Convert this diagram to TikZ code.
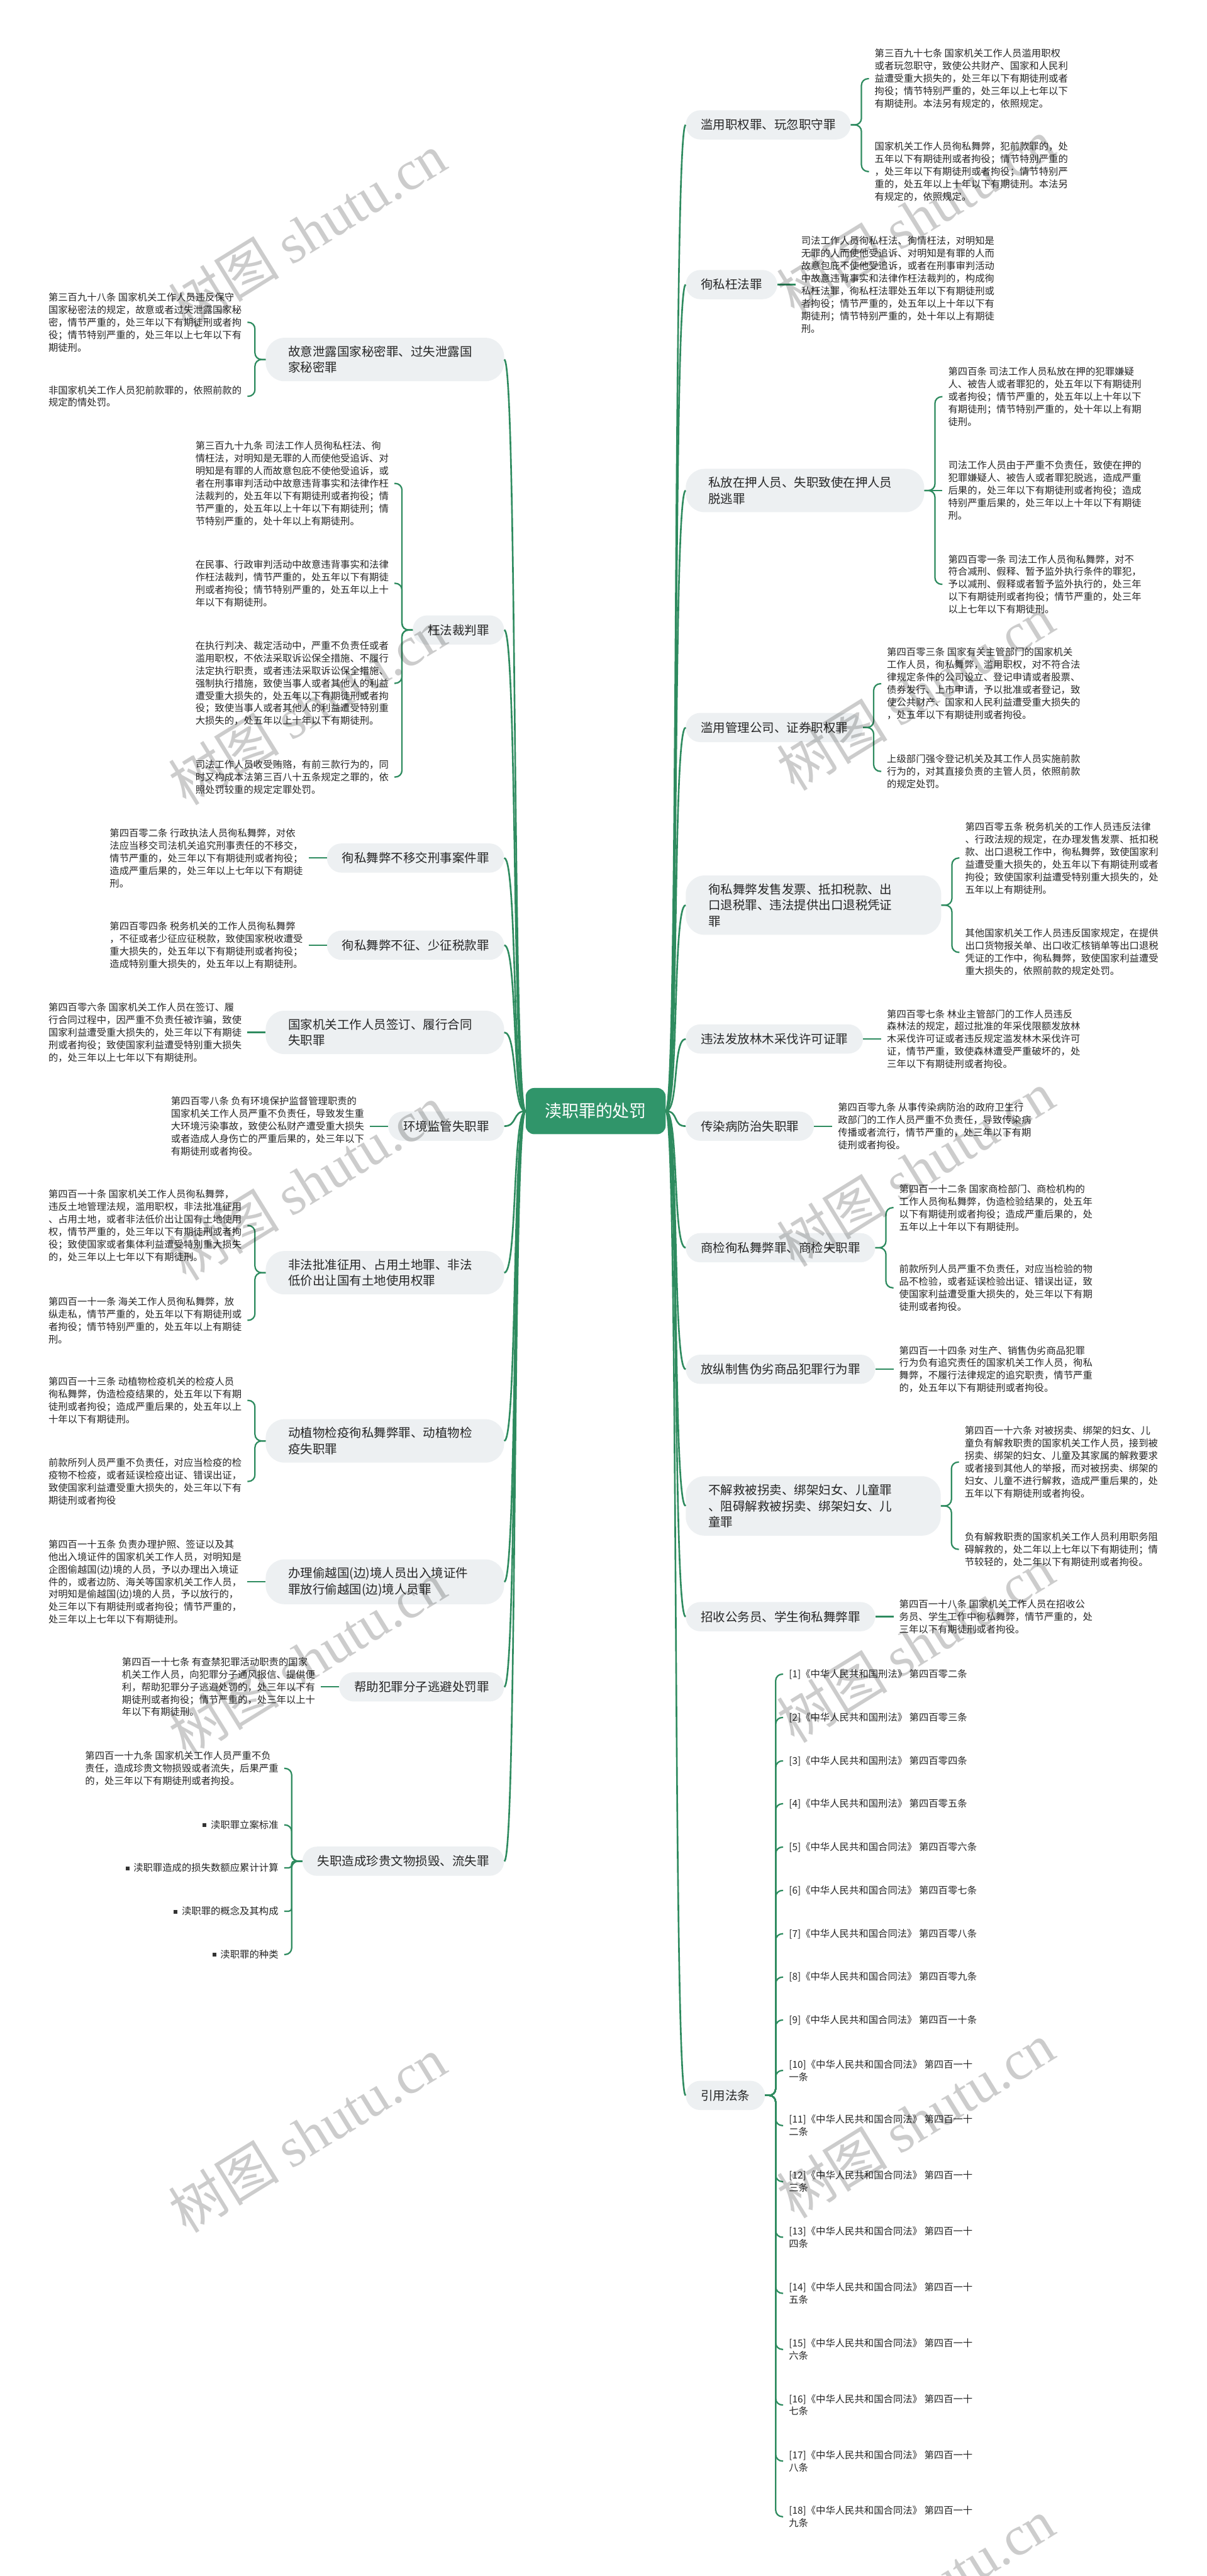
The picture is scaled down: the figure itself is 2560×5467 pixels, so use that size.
\documentclass[tikz,border=0pt]{standalone}
\usepackage{fontspec}
\setmainfont{Noto Sans CJK SC}
\newfontfamily\wmlatin{Liberation Serif}
\usetikzlibrary{calc}
\definecolor{lc}{HTML}{2E8B5F}
\definecolor{cfill}{HTML}{30956A}
\definecolor{nbg}{HTML}{EDF0F2}
\definecolor{txt}{HTML}{262626}
\definecolor{bul}{HTML}{333333}
\begin{document}
\begin{tikzpicture}[x=1pt,y=-1pt,
  conn/.style={draw=lc, line width=3pt, rounded corners=14pt},
  sconn/.style={draw=lc, line width=3pt, rounded corners=6pt},
  mconn/.style={draw=lc, line width=3.5pt},
  br/.style={fill=nbg, rounded corners=31pt, inner xsep=32pt, inner ysep=17pt, minimum height=62pt, font=\fontsize{26}{34}\selectfont, text=txt},
  brm/.style={br, inner xsep=48pt, rounded corners=40pt, align=left, text width=#1},
  dt/.style={inner xsep=12pt, inner ysep=0pt, font=\fontsize{20.5}{26.6}\selectfont, text=txt, align=left},
  wm/.style={rotate=31.7, text=black, text opacity=0.2, font=\fontsize{118}{120}\selectfont}
]
\fill[white] (0,0) rectangle (2560,5467);
\useasboundingbox (0,0) rectangle (2560,5467);

% ---------------- center ----------------
\node[fill=cfill, text=white, rounded corners=18pt, minimum width=297pt, minimum height=98pt, inner sep=0pt, font=\fontsize{36}{40}\selectfont] (C) at (1264,2358) {渎职罪的处罚};

% ---------------- right branch nodes ----------------
\node[br, anchor=west] (R1) at (1455,265) {滥用职权罪、玩忽职守罪};
\node[br, anchor=west] (R2) at (1455,604) {徇私枉法罪};
\node[brm=410pt, anchor=west] (R3) at (1455,1041) {私放在押人员、失职致使在押人员\\脱逃罪};
\node[br, anchor=west] (R4) at (1455,1544) {滥用管理公司、证券职权罪};
\node[brm=446pt, anchor=west] (R5) at (1455,1921) {徇私舞弊发售发票、抵扣税款、出\\口退税罪、违法提供出口退税凭证\\罪};
\node[br, anchor=west] (R6) at (1455,2205) {违法发放林木采伐许可证罪};
\node[br, anchor=west] (R7) at (1455,2390) {传染病防治失职罪};
\node[br, anchor=west] (R8) at (1455,2648) {商检徇私舞弊罪、商检失职罪};
\node[br, anchor=west] (R9) at (1455,2906) {放纵制售伪劣商品犯罪行为罪};
\node[brm=445pt, anchor=west] (R10) at (1455,3196) {不解救被拐卖、绑架妇女、儿童罪\\、阻碍解救被拐卖、绑架妇女、儿\\童罪};
\node[br, anchor=west] (R11) at (1455,3431) {招收公务员、学生徇私舞弊罪};
\node[br, anchor=west] (R12) at (1455,4447) {引用法条};

% ---------------- left branch nodes ----------------
\node[brm=410pt, anchor=east] (LA) at (1070,763) {故意泄露国家秘密罪、过失泄露国\\家秘密罪};
\node[br, anchor=east] (LB) at (1070,1337) {枉法裁判罪};
\node[br, anchor=east] (LC) at (1070,1821) {徇私舞弊不移交刑事案件罪};
\node[br, anchor=east] (LD) at (1070,2006) {徇私舞弊不征、少征税款罪};
\node[brm=410pt, anchor=east] (LE) at (1070,2191) {国家机关工作人员签订、履行合同\\失职罪};
\node[br, anchor=east] (LF) at (1070,2390) {环境监管失职罪};
\node[brm=410pt, anchor=east] (LG) at (1070,2701) {非法批准征用、占用土地罪、非法\\低价出让国有土地使用权罪};
\node[brm=410pt, anchor=east] (LH) at (1070,3058) {动植物检疫徇私舞弊罪、动植物检\\疫失职罪};
\node[brm=410pt, anchor=east] (LI) at (1070,3357) {办理偷越国(边)境人员出入境证件\\罪放行偷越国(边)境人员罪};
\node[br, anchor=east] (LJ) at (1070,3580) {帮助犯罪分子逃避处罚罪};
\node[br, anchor=east] (LK) at (1070,3950) {失职造成珍贵文物损毁、流失罪};

% ---------------- right detail texts ----------------
\node[dt, anchor=west] (T1) at (1844,167) {第三百九十七条 国家机关工作人员滥用职权\\或者玩忽职守，致使公共财产、国家和人民利\\益遭受重大损失的，处三年以下有期徒刑或者\\拘役；情节特别严重的，处三年以上七年以下\\有期徒刑。本法另有规定的，依照规定。};
\node[dt, anchor=west] (T2) at (1844,364) {国家机关工作人员徇私舞弊，犯前款罪的，处\\五年以下有期徒刑或者拘役；情节特别严重的\\，处三年以下有期徒刑或者拘役；情节特别严\\重的，处五年以上十年以下有期徒刑。本法另\\有规定的，依照规定。};
\node[dt, anchor=west] (T3) at (1688,604) {司法工作人员徇私枉法、徇情枉法，对明知是\\无罪的人而使他受追诉、对明知是有罪的人而\\故意包庇不使他受追诉，或者在刑事审判活动\\中故意违背事实和法律作枉法裁判的，构成徇\\私枉法罪，徇私枉法罪处五年以下有期徒刑或\\者拘役；情节严重的，处五年以上十年以下有\\期徒刑；情节特别严重的，处十年以上有期徒\\刑。};
\node[dt, anchor=west] (T4) at (2000,842) {第四百条 司法工作人员私放在押的犯罪嫌疑\\人、被告人或者罪犯的，处五年以下有期徒刑\\或者拘役；情节严重的，处五年以上十年以下\\有期徒刑；情节特别严重的，处十年以上有期\\徒刑。};
\node[dt, anchor=west] (T5) at (2000,1041) {司法工作人员由于严重不负责任，致使在押的\\犯罪嫌疑人、被告人或者罪犯脱逃，造成严重\\后果的，处三年以下有期徒刑或者拘役；造成\\特别严重后果的，处三年以上十年以下有期徒\\刑。};
\node[dt, anchor=west] (T6) at (2000,1240) {第四百零一条 司法工作人员徇私舞弊，对不\\符合减刑、假释、暂予监外执行条件的罪犯，\\予以减刑、假释或者暂予监外执行的，处三年\\以下有期徒刑或者拘役；情节严重的，处三年\\以上七年以下有期徒刑。};
\node[dt, anchor=west] (T7) at (1870,1451) {第四百零三条 国家有关主管部门的国家机关\\工作人员，徇私舞弊，滥用职权，对不符合法\\律规定条件的公司设立、登记申请或者股票、\\债券发行、上市申请，予以批准或者登记，致\\使公共财产、国家和人民利益遭受重大损失的\\，处五年以下有期徒刑或者拘役。};
\node[dt, anchor=west] (T8) at (1870,1637) {上级部门强令登记机关及其工作人员实施前款\\行为的，对其直接负责的主管人员，依照前款\\的规定处罚。};
\node[dt, anchor=west] (T9) at (2036,1821) {第四百零五条 税务机关的工作人员违反法律\\、行政法规的规定，在办理发售发票、抵扣税\\款、出口退税工作中，徇私舞弊，致使国家利\\益遭受重大损失的，处五年以下有期徒刑或者\\拘役；致使国家利益遭受特别重大损失的，处\\五年以上有期徒刑。};
\node[dt, anchor=west] (T10) at (2036,2021) {其他国家机关工作人员违反国家规定，在提供\\出口货物报关单、出口收汇核销单等出口退税\\凭证的工作中，徇私舞弊，致使国家利益遭受\\重大损失的，依照前款的规定处罚。};
\node[dt, anchor=west] (T11) at (1870,2205) {第四百零七条 林业主管部门的工作人员违反\\森林法的规定，超过批准的年采伐限额发放林\\木采伐许可证或者违反规定滥发林木采伐许可\\证，情节严重，致使森林遭受严重破坏的，处\\三年以下有期徒刑或者拘役。};
\node[dt, anchor=west] (T12) at (1766,2390) {第四百零九条 从事传染病防治的政府卫生行\\政部门的工作人员严重不负责任，导致传染病\\传播或者流行，情节严重的，处三年以下有期\\徒刑或者拘役。};
\node[dt, anchor=west] (T13) at (1896,2563) {第四百一十二条 国家商检部门、商检机构的\\工作人员徇私舞弊，伪造检验结果的，处五年\\以下有期徒刑或者拘役；造成严重后果的，处\\五年以上十年以下有期徒刑。};
\node[dt, anchor=west] (T14) at (1896,2733) {前款所列人员严重不负责任，对应当检验的物\\品不检验，或者延误检验出证、错误出证，致\\使国家利益遭受重大损失的，处三年以下有期\\徒刑或者拘役。};
\node[dt, anchor=west] (T15) at (1896,2906) {第四百一十四条 对生产、销售伪劣商品犯罪\\行为负有追究责任的国家机关工作人员，徇私\\舞弊，不履行法律规定的追究职责，情节严重\\的，处五年以下有期徒刑或者拘役。};
\node[dt, anchor=west] (T16) at (2035,3103) {第四百一十六条 对被拐卖、绑架的妇女、儿\\童负有解救职责的国家机关工作人员，接到被\\拐卖、绑架的妇女、儿童及其家属的解救要求\\或者接到其他人的举报，而对被拐卖、绑架的\\妇女、儿童不进行解救，造成严重后果的，处\\五年以下有期徒刑或者拘役。};
\node[dt, anchor=west] (T17) at (2035,3288) {负有解救职责的国家机关工作人员利用职务阻\\碍解救的，处二年以上七年以下有期徒刑；情\\节较轻的，处二年以下有期徒刑或者拘役。};
\node[dt, anchor=west] (T18) at (1896,3431) {第四百一十八条 国家机关工作人员在招收公\\务员、学生工作中徇私舞弊，情节严重的，处\\三年以下有期徒刑或者拘役。};

% references
\node[dt, anchor=west] (F1) at (1662,3553) {[1]《中华人民共和国刑法》 第四百零二条};
\node[dt, anchor=west] (F2) at (1662,3645) {[2]《中华人民共和国刑法》 第四百零三条};
\node[dt, anchor=west] (F3) at (1662,3737) {[3]《中华人民共和国刑法》 第四百零四条};
\node[dt, anchor=west] (F4) at (1662,3828) {[4]《中华人民共和国刑法》 第四百零五条};
\node[dt, anchor=west] (F5) at (1662,3920) {[5]《中华人民共和国合同法》 第四百零六条};
\node[dt, anchor=west] (F6) at (1662,4012) {[6]《中华人民共和国合同法》 第四百零七条};
\node[dt, anchor=west] (F7) at (1662,4104) {[7]《中华人民共和国合同法》 第四百零八条};
\node[dt, anchor=west] (F8) at (1662,4196) {[8]《中华人民共和国合同法》 第四百零九条};
\node[dt, anchor=west] (F9) at (1662,4287) {[9]《中华人民共和国合同法》 第四百一十条};
\node[dt, anchor=west] (F10) at (1662,4394) {[10]《中华人民共和国合同法》 第四百一十\\一条};
\node[dt, anchor=west] (F11) at (1662,4511) {[11]《中华人民共和国合同法》 第四百一十\\二条};
\node[dt, anchor=west] (F12) at (1662,4630) {[12]《中华人民共和国合同法》 第四百一十\\三条};
\node[dt, anchor=west] (F13) at (1662,4748) {[13]《中华人民共和国合同法》 第四百一十\\四条};
\node[dt, anchor=west] (F14) at (1662,4867) {[14]《中华人民共和国合同法》 第四百一十\\五条};
\node[dt, anchor=west] (F15) at (1662,4986) {[15]《中华人民共和国合同法》 第四百一十\\六条};
\node[dt, anchor=west] (F16) at (1662,5104) {[16]《中华人民共和国合同法》 第四百一十\\七条};
\node[dt, anchor=west] (F17) at (1662,5223) {[17]《中华人民共和国合同法》 第四百一十\\八条};
\node[dt, anchor=west] (F18) at (1662,5341) {[18]《中华人民共和国合同法》 第四百一十\\九条};

% ---------------- left detail texts ----------------
\node[dt, anchor=east] (L1) at (525,684) {第三百九十八条 国家机关工作人员违反保守\\国家秘密法的规定，故意或者过失泄露国家秘\\密，情节严重的，处三年以下有期徒刑或者拘\\役；情节特别严重的，处三年以上七年以下有\\期徒刑。};
\node[dt, anchor=east] (L2) at (525,841) {非国家机关工作人员犯前款罪的，依照前款的\\规定酌情处罚。};
\node[dt, anchor=east] (W1) at (837,1026) {第三百九十九条 司法工作人员徇私枉法、徇\\情枉法，对明知是无罪的人而使他受追诉、对\\明知是有罪的人而故意包庇不使他受追诉，或\\者在刑事审判活动中故意违背事实和法律作枉\\法裁判的，处五年以下有期徒刑或者拘役；情\\节严重的，处五年以上十年以下有期徒刑；情\\节特别严重的，处十年以上有期徒刑。};
\node[dt, anchor=east] (W2) at (837,1238) {在民事、行政审判活动中故意违背事实和法律\\作枉法裁判，情节严重的，处五年以下有期徒\\刑或者拘役；情节特别严重的，处五年以上十\\年以下有期徒刑。};
\node[dt, anchor=east] (W3) at (837,1450) {在执行判决、裁定活动中，严重不负责任或者\\滥用职权，不依法采取诉讼保全措施、不履行\\法定执行职责，或者违法采取诉讼保全措施、\\强制执行措施，致使当事人或者其他人的利益\\遭受重大损失的，处五年以下有期徒刑或者拘\\役；致使当事人或者其他人的利益遭受特别重\\大损失的，处五年以上十年以下有期徒刑。};
\node[dt, anchor=east] (W4) at (837,1649) {司法工作人员收受贿赂，有前三款行为的，同\\时又构成本法第三百八十五条规定之罪的，依\\照处罚较重的规定定罪处罚。};
\node[dt, anchor=east] (X1) at (655,1821) {第四百零二条 行政执法人员徇私舞弊，对依\\法应当移交司法机关追究刑事责任的不移交，\\情节严重的，处三年以下有期徒刑或者拘役；\\造成严重后果的，处三年以上七年以下有期徒\\刑。};
\node[dt, anchor=east] (X2) at (655,2006) {第四百零四条 税务机关的工作人员徇私舞弊\\，不征或者少征应征税款，致使国家税收遭受\\重大损失的，处五年以下有期徒刑或者拘役；\\造成特别重大损失的，处五年以上有期徒刑。};
\node[dt, anchor=east] (X3) at (525,2191) {第四百零六条 国家机关工作人员在签订、履\\行合同过程中，因严重不负责任被诈骗，致使\\国家利益遭受重大损失的，处三年以下有期徒\\刑或者拘役；致使国家利益遭受特别重大损失\\的，处三年以上七年以下有期徒刑。};
\node[dt, anchor=east] (X4) at (785,2390) {第四百零八条 负有环境保护监督管理职责的\\国家机关工作人员严重不负责任，导致发生重\\大环境污染事故，致使公私财产遭受重大损失\\或者造成人身伤亡的严重后果的，处三年以下\\有期徒刑或者拘役。};
\node[dt, anchor=east] (Y1) at (525,2601) {第四百一十条 国家机关工作人员徇私舞弊，\\违反土地管理法规，滥用职权，非法批准征用\\、占用土地，或者非法低价出让国有土地使用\\权，情节严重的，处三年以下有期徒刑或者拘\\役；致使国家或者集体利益遭受特别重大损失\\的，处三年以上七年以下有期徒刑。};
\node[dt, anchor=east] (Y2) at (525,2802) {第四百一十一条 海关工作人员徇私舞弊，放\\纵走私，情节严重的，处五年以下有期徒刑或\\者拘役；情节特别严重的，处五年以上有期徒\\刑。};
\node[dt, anchor=east] (Y3) at (525,2972) {第四百一十三条 动植物检疫机关的检疫人员\\徇私舞弊，伪造检疫结果的，处五年以下有期\\徒刑或者拘役；造成严重后果的，处五年以上\\十年以下有期徒刑。};
\node[dt, anchor=east] (Y4) at (525,3144) {前款所列人员严重不负责任，对应当检疫的检\\疫物不检疫，或者延误检疫出证、错误出证，\\致使国家利益遭受重大损失的，处三年以下有\\期徒刑或者拘役};
\node[dt, anchor=east] (Z1) at (525,3357) {第四百一十五条 负责办理护照、签证以及其\\他出入境证件的国家机关工作人员，对明知是\\企图偷越国(边)境的人员，予以办理出入境证\\件的，或者边防、海关等国家机关工作人员，\\对明知是偷越国(边)境的人员，予以放行的，\\处三年以下有期徒刑或者拘役；情节严重的，\\处三年以上七年以下有期徒刑。};
\node[dt, anchor=east] (Z2) at (681,3580) {第四百一十七条 有查禁犯罪活动职责的国家\\机关工作人员，向犯罪分子通风报信、提供便\\利，帮助犯罪分子逃避处罚的，处三年以下有\\期徒刑或者拘役；情节严重的，处三年以上十\\年以下有期徒刑。};
\node[dt, anchor=east] (V1) at (603,3753) {第四百一十九条 国家机关工作人员严重不负\\责任，造成珍贵文物损毁或者流失，后果严重\\的，处三年以下有期徒刑或者拘投。};
\node[dt, anchor=east] (B1) at (603,3873) {\textcolor{bul}{\rule[3pt]{8pt}{8pt}}\hspace{9pt}渎职罪立案标准};
\node[dt, anchor=east] (B2) at (603,3964) {\textcolor{bul}{\rule[3pt]{8pt}{8pt}}\hspace{9pt}渎职罪造成的损失数额应累计计算};
\node[dt, anchor=east] (B3) at (603,4056) {\textcolor{bul}{\rule[3pt]{8pt}{8pt}}\hspace{9pt}渎职罪的概念及其构成};
\node[dt, anchor=east] (B4) at (603,4148) {\textcolor{bul}{\rule[3pt]{8pt}{8pt}}\hspace{9pt}渎职罪的种类};

% ---------------- bracket coordinates ----------------
\coordinate (bR1) at (1828,265);
\coordinate (bR3) at (1984,1041);
\coordinate (bR4) at (1854,1544);
\coordinate (bR5) at (2020,1921);
\coordinate (bR8) at (1880,2648);
\coordinate (bR10) at (2019,3196);
\coordinate (bR12) at (1646,4447);
\coordinate (bLA) at (541,763);
\coordinate (bLB) at (853,1337);
\coordinate (bLG) at (541,2701);
\coordinate (bLH) at (541,3058);
\coordinate (bLK) at (619,3950);

% ---------------- main connectors ----------------
\foreach \n in {R1,R2,R3,R4,R5,R6,R7,R8,R9,R10,R11,R12}
  \draw[mconn] (C.east) .. controls +(28,0) and +(-28,0) .. (\n.west);
\foreach \n in {LA,LB,LC,LD,LE,LF,LG,LH,LI,LJ,LK}
  \draw[mconn] (C.west) .. controls +(-28,0) and +(28,0) .. (\n.east);

% ---------------- detail connectors right ----------------
\draw[conn] (R1.east) -- (bR1) |- (T1.west);
\draw[conn] (R1.east) -- (bR1) |- (T2.west);
\draw[conn] (R2.east) -- (T3.west);
\draw[conn] (R3.east) -- (bR3) |- (T4.west);
\draw[conn] (R3.east) -- (T5.west);
\draw[conn] (R3.east) -- (bR3) |- (T6.west);
\draw[conn] (R4.east) -- (bR4) |- (T7.west);
\draw[conn] (R4.east) -- (bR4) |- (T8.west);
\draw[conn] (R5.east) -- (bR5) |- (T9.west);
\draw[conn] (R5.east) -- (bR5) |- (T10.west);
\draw[conn] (R6.east) -- (T11.west);
\draw[conn] (R7.east) -- (T12.west);
\draw[conn] (R8.east) -- (bR8) |- (T13.west);
\draw[conn] (R8.east) -- (bR8) |- (T14.west);
\draw[conn] (R9.east) -- (T15.west);
\draw[conn] (R10.east) -- (bR10) |- (T16.west);
\draw[conn] (R10.east) -- (bR10) |- (T17.west);
\draw[conn] (R11.east) -- (T18.west);
\foreach \n in {F1,F2,F3,F4,F5,F6,F7,F8,F9,F10,F11,F12,F13,F14,F15,F16,F17,F18}
  \draw[conn] (R12.east) -- (bR12) |- (\n.west);

% ---------------- detail connectors left ----------------
\draw[conn] (LA.west) -- (bLA) |- (L1.east);
\draw[conn] (LA.west) -- (bLA) |- (L2.east);
\foreach \n in {W1,W2,W3,W4}
  \draw[conn] (LB.west) -- (bLB) |- (\n.east);
\draw[conn] (LC.west) -- (X1.east);
\draw[conn] (LD.west) -- (X2.east);
\draw[conn] (LE.west) -- (X3.east);
\draw[conn] (LF.west) -- (X4.east);
\draw[conn] (LG.west) -- (bLG) |- (Y1.east);
\draw[conn] (LG.west) -- (bLG) |- (Y2.east);
\draw[conn] (LH.west) -- (bLH) |- (Y3.east);
\draw[conn] (LH.west) -- (bLH) |- (Y4.east);
\draw[conn] (LI.west) -- (Z1.east);
\draw[conn] (LJ.west) -- (Z2.east);
\foreach \n in {V1,B1,B4}
  \draw[conn] (LK.west) -- (bLK) |- (\n.east);
\foreach \n in {B2,B3}
  \draw[sconn] (LK.west) -- (bLK) |- (\n.east);

% ---------------- watermarks ----------------
\foreach \y in {490,1500,2510,3520,4530}
  \node[wm] (wl\y) at (652,\y) {树图 {\wmlatin shutu.cn}};
\foreach \y in {460,1470,2480,3490,4500,5510}
  \node[wm] (wr\y) at (1943,\y) {树图 {\wmlatin shutu.cn}};
\end{tikzpicture}
\end{document}
